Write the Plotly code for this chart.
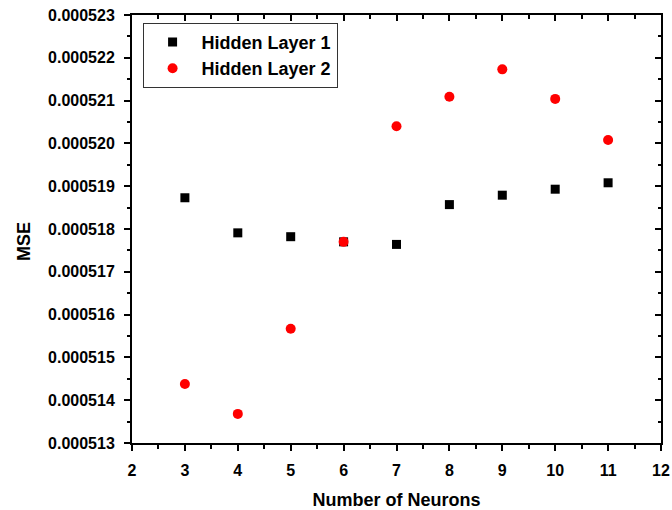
import plotly.graph_objects as go

neurons = [3, 4, 5, 6, 7, 8, 9, 10, 11]
mse_layer1 = [0.00051873, 0.00051791, 0.00051782, 0.00051770, 0.00051764,
              0.00051857, 0.00051879, 0.00051893, 0.00051908]
mse_layer2 = [0.00051438, 0.00051368, 0.00051567, 0.00051770, 0.00052040,
              0.00052109, 0.00052173, 0.00052104, 0.00052008]

x_title = "Number of Neurons"
y_title = "MSE"
names = ["Hidden Layer 1", "Hidden Layer 2"]

FONT = "Liberation Sans, Arial, sans-serif"

fig = go.Figure()
fig.add_trace(go.Scatter(x=neurons, y=mse_layer1, mode="markers", name=names[0],
                         marker=dict(symbol="square", size=9, color="black")))
fig.add_trace(go.Scatter(x=neurons, y=mse_layer2, mode="markers", name=names[1],
                         marker=dict(symbol="circle", size=10, color="#ff0000")))

common = dict(showgrid=False, zeroline=False, showline=True, linecolor="black",
              linewidth=2, tickcolor="black", tickwidth=2, automargin=False)

fig.update_layout(
    width=672, height=510,
    margin=dict(l=132, r=11, t=15, b=67),
    paper_bgcolor="white", plot_bgcolor="white",
    font=dict(family=FONT, size=16, color="black", weight="bold"),
    showlegend=True,
    legend=dict(x=0.02, y=0.982, xanchor="left", yanchor="top",
                bordercolor="#333333", borderwidth=1, bgcolor="white",
                font=dict(family=FONT, size=18, color="black", weight="bold"),
                itemwidth=48, tracegroupgap=0),
    xaxis=dict(range=[2, 12], dtick=1, tick0=2, ticks="outside", ticklen=6,
               minor=dict(dtick=0.5, ticks="outside", ticklen=3.5, tickcolor="black", tickwidth=2),
               title=dict(text=x_title, font=dict(size=18, weight="bold"), standoff=22),
               tickfont=dict(size=16, weight="bold"), ticklabelstandoff=6,
               **common),
    yaxis=dict(range=[0.000513, 0.000523], dtick=0.000001, tick0=0.000513,
               tickformat=".6f", ticks="outside", ticklen=6,
               minor=dict(dtick=0.0000005, ticks="outside", ticklen=3.5, tickcolor="black", tickwidth=2),
               tickfont=dict(size=16, weight="bold"), ticklabelstandoff=6,
               **common),
    xaxis2=dict(overlaying="x", side="top", matches="x", range=[2, 12], dtick=1, tick0=2,
                ticks="inside", ticklen=6, showticklabels=False,
                minor=dict(dtick=0.5, ticks="inside", ticklen=3.5, tickcolor="black", tickwidth=2),
                **common),
    yaxis2=dict(overlaying="y", side="right", matches="y", range=[0.000513, 0.000523],
                dtick=0.000001, tick0=0.000513, ticks="inside", ticklen=6, showticklabels=False,
                minor=dict(dtick=0.0000005, ticks="inside", ticklen=3.5, tickcolor="black", tickwidth=2),
                **common),
)

fig.add_annotation(text=y_title, xref="paper", yref="paper", x=-0.204, y=0.47,
                   xanchor="center", yanchor="middle", textangle=-90, showarrow=False,
                   font=dict(family=FONT, size=18, color="black", weight="bold"))

# invisible trace to activate the mirrored top/right axes
fig.add_trace(go.Scatter(x=[None], y=[None], xaxis="x2", yaxis="y2",
                         showlegend=False, hoverinfo="skip"))

fig.write_html("out.html")
